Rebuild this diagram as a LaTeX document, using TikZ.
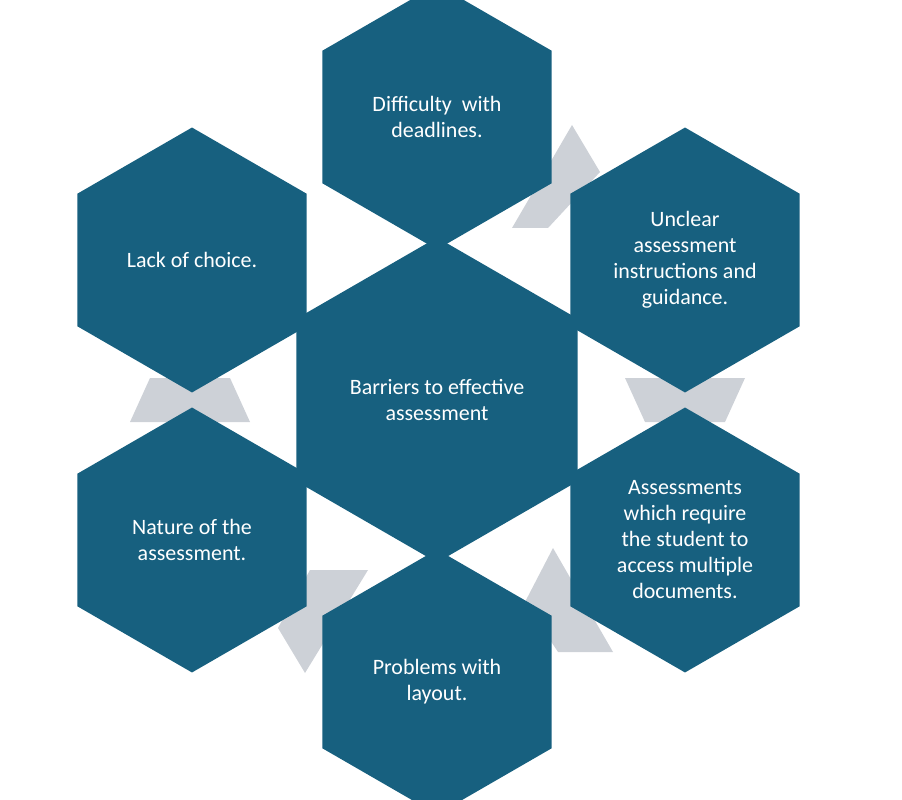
\documentclass[tikz,border=0pt]{standalone}
\usepackage{fontspec}
\setmainfont{Carlito}
\usetikzlibrary{shapes.geometric}
\definecolor{hexblue}{HTML}{17607F}
\definecolor{linkgrey}{HTML}{CDD1D7}
\begin{document}
\begin{tikzpicture}%
	[x=0.02cm, y=-0.02cm,
	hexa/.style={regular polygon, regular polygon sides=6, shape border rotate=30,
		fill=hexblue, inner sep=0pt, outer sep=0pt, minimum size=5.3cm,
		text=white, align=center, font=\fontsize{12.5}{14.8}\selectfont},
	link/.style={fill=linkgrey}]
\useasboundingbox (0,0) rectangle (902,800);
%%
%% Grey links between the outer cells
%%
\fill[link] (572,125) -- (600,172) -- (548,228) -- (512,228) -- cycle;
\fill[link] (625,378) -- (745,378) -- (725,422) -- (645,422) -- cycle;
\fill[link] (553,548) -- (613,652) -- (558,652) -- (525,602) -- cycle;
\fill[link] (310,570) -- (368,570) -- (305,673) -- (278,628) -- cycle;
\fill[link] (150,378) -- (230,378) -- (250,422) -- (130,422) -- cycle;
%%
%% The cells
%%
\node[hexa, minimum size=6.5cm] (core) at (437,400) {Barriers to effective\\assessment};
\node[hexa] (deadlines) at (437,117) {Difficulty\ \ with\\deadlines.};
\node[hexa] (unclear) at (685,260) {Unclear\\assessment\\instructions and\\guidance.};
\node[hexa] (documents) at (685,540) {Assessments\\which require\\the student to\\access multiple\\documents.};
\node[hexa] (layout) at (437,682) {Problems with\\layout.};
\node[hexa] (nature) at (192,540) {Nature of the\\assessment.};
\node[hexa] (choice) at (192,260) {Lack of choice.};
%%
\end{tikzpicture}
\end{document}
